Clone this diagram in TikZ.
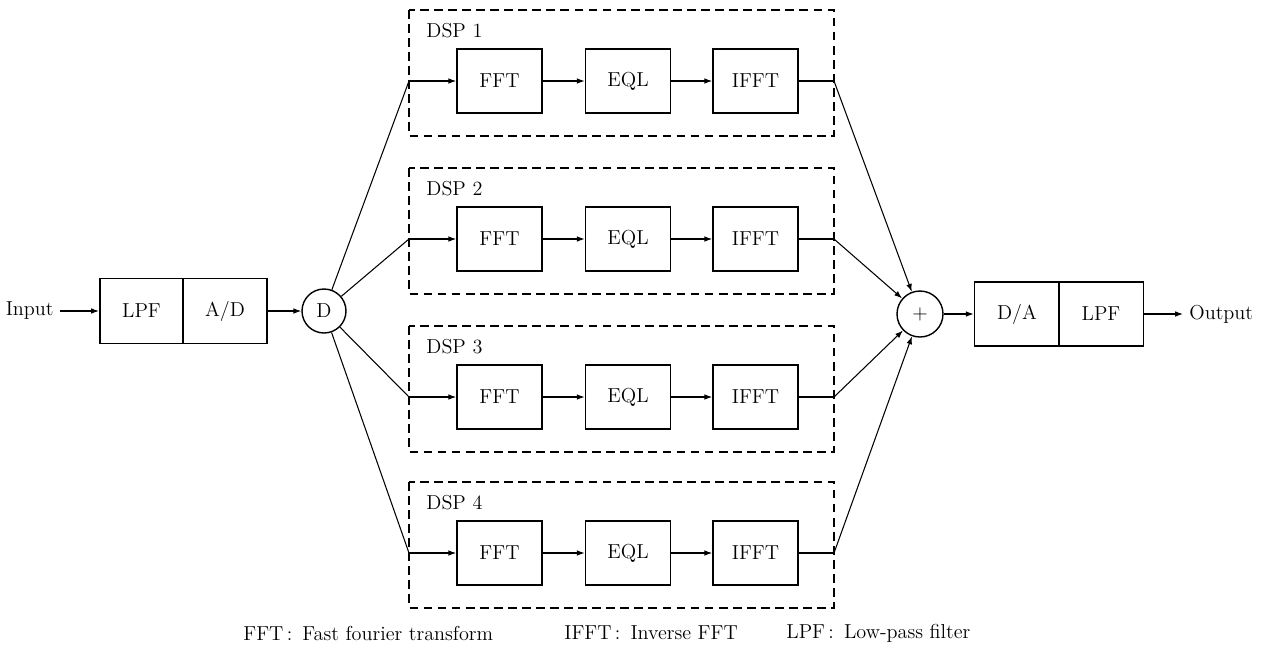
\documentclass[tikz,border=0pt]{standalone}
\usepackage{tikz}
\usetikzlibrary{arrows.meta}

\begin{document}
\begin{tikzpicture}[x=0.02cm, y=-0.02cm, line width=0.6pt,
	every node/.style={font=\fontsize{11.5}{13}\selectfont},
	blk/.style={draw, line width=0.9pt, minimum width=1.7cm, minimum height=1.28cm, inner sep=0pt},
	junc/.style={draw, circle, line width=0.8pt, minimum size=0.9cm, inner sep=0pt},
	dspbox/.style={line width=0.9pt, dash pattern=on 5pt off 3pt},
	>={Latex[length=4.5pt, width=3.2pt]}]
	
	\useasboundingbox (0,0) rectangle (1261,654);
	
	% --- 输入端: LPF + A/D + 分配器 D ---
	\node[anchor=east] (inp) at (60,311) {Input};
	\node[blk, minimum width=1.67cm, minimum height=1.3cm] (lpfa) at (141.5,311) {LPF};
	\node[blk, minimum width=1.68cm, minimum height=1.3cm] (adc) at (225,311) {A/D};
	\node[junc, minimum size=0.88cm] (dist) at (324,311) {D};
	\draw[->] (inp) -- (lpfa);
	\draw[->] (adc) -- (dist);
	
	% --- 输出端: 求和 + D/A + LPF ---
	\node[junc, minimum size=0.92cm] (sum) at (920,314) {+};
	\node[blk] (dac) at (1017,314) {D/A};
	\node[blk] (lpfb) at (1101,314) {LPF};
	\node[anchor=west] (outp) at (1183,314) {Output};
	\draw[->] (sum) -- (dac);
	\draw[->] (lpfb) -- (outp);
	
	% --- DSP 1 ---
	\begin{scope}[shift={(0,0)}]
		\draw[dspbox] (409,10) rectangle (834,136);
		\node[anchor=west] (lab1) at (420,31) {DSP 1};
		\node[blk] (fft1) at (499.5,81) {FFT};
		\node[blk] (eql1) at (628,81) {EQL};
		\node[blk] (ifft1) at (755.5,81) {IFFT};
		\coordinate (in1) at (409,81);
		\coordinate (out1) at (834,81);
		\draw (dist) -- (in1);
		\draw[->] (in1) -- (fft1);
		\draw[->] (fft1) -- (eql1);
		\draw[->] (eql1) -- (ifft1);
		\draw (ifft1) -- (out1);
		\draw[->] (out1) -- (sum);
	\end{scope}
	
	% --- DSP 2 ---
	\begin{scope}[shift={(0,158)}]
		\draw[dspbox] (409,10) rectangle (834,136);
		\node[anchor=west] (lab2) at (420,31) {DSP 2};
		\node[blk] (fft2) at (499.5,81) {FFT};
		\node[blk] (eql2) at (628,81) {EQL};
		\node[blk] (ifft2) at (755.5,81) {IFFT};
		\coordinate (in2) at (409,81);
		\coordinate (out2) at (834,81);
		\draw (dist) -- (in2);
		\draw[->] (in2) -- (fft2);
		\draw[->] (fft2) -- (eql2);
		\draw[->] (eql2) -- (ifft2);
		\draw (ifft2) -- (out2);
		\draw[->] (out2) -- (sum);
	\end{scope}
	
	% --- DSP 3 ---
	\begin{scope}[shift={(0,316)}]
		\draw[dspbox] (409,10) rectangle (834,136);
		\node[anchor=west] (lab3) at (420,31) {DSP 3};
		\node[blk] (fft3) at (499.5,81) {FFT};
		\node[blk] (eql3) at (628,81) {EQL};
		\node[blk] (ifft3) at (755.5,81) {IFFT};
		\coordinate (in3) at (409,81);
		\coordinate (out3) at (834,81);
		\draw (dist) -- (in3);
		\draw[->] (in3) -- (fft3);
		\draw[->] (fft3) -- (eql3);
		\draw[->] (eql3) -- (ifft3);
		\draw (ifft3) -- (out3);
		\draw[->] (out3) -- (sum);
	\end{scope}
	
	% --- DSP 4 ---
	\begin{scope}[shift={(0,472)}]
		\draw[dspbox] (409,10) rectangle (834,136);
		\node[anchor=west] (lab4) at (420,31) {DSP 4};
		\node[blk] (fft4) at (499.5,81) {FFT};
		\node[blk] (eql4) at (628,81) {EQL};
		\node[blk] (ifft4) at (755.5,81) {IFFT};
		\coordinate (in4) at (409,81);
		\coordinate (out4) at (834,81);
		\draw (dist) -- (in4);
		\draw[->] (in4) -- (fft4);
		\draw[->] (fft4) -- (eql4);
		\draw[->] (eql4) -- (ifft4);
		\draw (ifft4) -- (out4);
		\draw[->] (out4) -- (sum);
	\end{scope}
	
	% --- 图例 ---
	\node[anchor=west] (leg1) at (237,633) {FFT\,:\enspace Fast fourier transform};
	\node[anchor=west] (leg2) at (558,633) {IFFT\,:\enspace Inverse FFT};
	\node[anchor=west] (leg3) at (780,633) {LPF\,:\enspace Low-pass filter};
	
\end{tikzpicture}
\end{document}
